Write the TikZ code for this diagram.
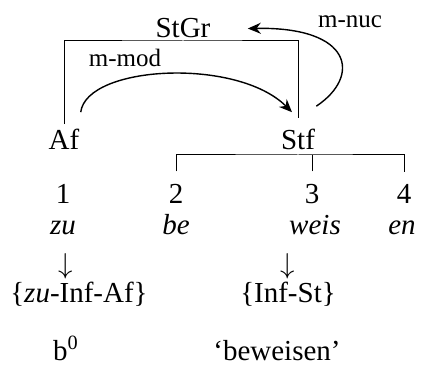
\documentclass[tikz,border=0pt]{standalone}
\usepackage{fontspec}
\setmainfont{Liberation Serif}
\usepackage{tikz}
\usetikzlibrary{arrows.meta}

\begin{document}
\begin{tikzpicture}[
    x=0.5pt, y=-0.5pt,
    txt/.style={anchor=base, inner sep=2pt, font=\fontsize{14.5}{17}\selectfont},
    num/.style={txt, inner sep=6pt},
    lbl/.style={anchor=base, inner sep=1pt, font=\fontsize{12.5}{15}\selectfont},
    dn/.style={anchor=base, inner sep=1pt, font=\fontsize{14}{16}\selectfont},
    arc/.style={line width=0.7pt, -{Stealth[length=6.5pt, width=5.5pt]}},
    brk/.style={line width=0.5pt},
  ]
    \useasboundingbox (0,0) rectangle (423,369);

    % upper level
    \node[txt] (STGR) at (183,38) {StGr};
    \node[txt] (AF)   at (64,149) {Af};
    \node[txt] (STF)  at (298,149) {Stf};
    \node[lbl] (MMOD) at (125,67) {m-mod};
    \node[lbl] (MNUC) at (350,28) {m-nuc};

    % segments
    \node[num] (N1) at (63,203)  {1};
    \node[num] (N2) at (176,203) {2};
    \node[num] (N3) at (312,203) {3};
    \node[num] (N4) at (404,203) {4};
    \node[txt] (ZU)   at (63,234)  {\textit{zu}};
    \node[txt] (BE)   at (176,234) {\textit{be}};
    \node[txt] (WEIS) at (315,234) {\textit{weis}};
    \node[txt] (EN)   at (402,234) {\textit{en}};

    % categories
    \node[dn]  (DN1) at (66,273)  {$\downarrow$};
    \node[dn]  (DN2) at (288,273) {$\downarrow$};
    \node[txt] (CAF) at (79,302)  {\{\textit{zu}-Inf-Af\}};
    \node[txt] (CST) at (288,302) {\{Inf-St\}};
    \node[txt] (B0)  at (66,360)  {b\textsuperscript{0}};
    \node[txt] (BEW) at (277,360) {‘beweisen’};

    % brackets
    \coordinate (TOPBAR) at ([shift={(0,3)}]STGR.base);
    \coordinate (SUBBAR) at ([shift={(0,6)}]STF.base);
    \draw[brk] (AF.north) |- (TOPBAR) -| ([shift={(0,-6)}]STF.north);
    \draw[brk] (N2.north) |- (SUBBAR) -| (N4.north);
    \draw[brk] (N3.north) -- (N3.north |- SUBBAR);

    % relations
    \draw[arc] ([shift={(-3,-12)}]AF.north east) .. controls +(6,-47) and +(-55,-55) .. ([shift={(-6,-12)}]STF.north);
    \draw[arc] ([shift={(-3,-18)}]STF.north east) .. controls +(45,-30) and +(105,-2) .. ([shift={(33,0)}]STGR.east);
  \end{tikzpicture}
\end{document}
